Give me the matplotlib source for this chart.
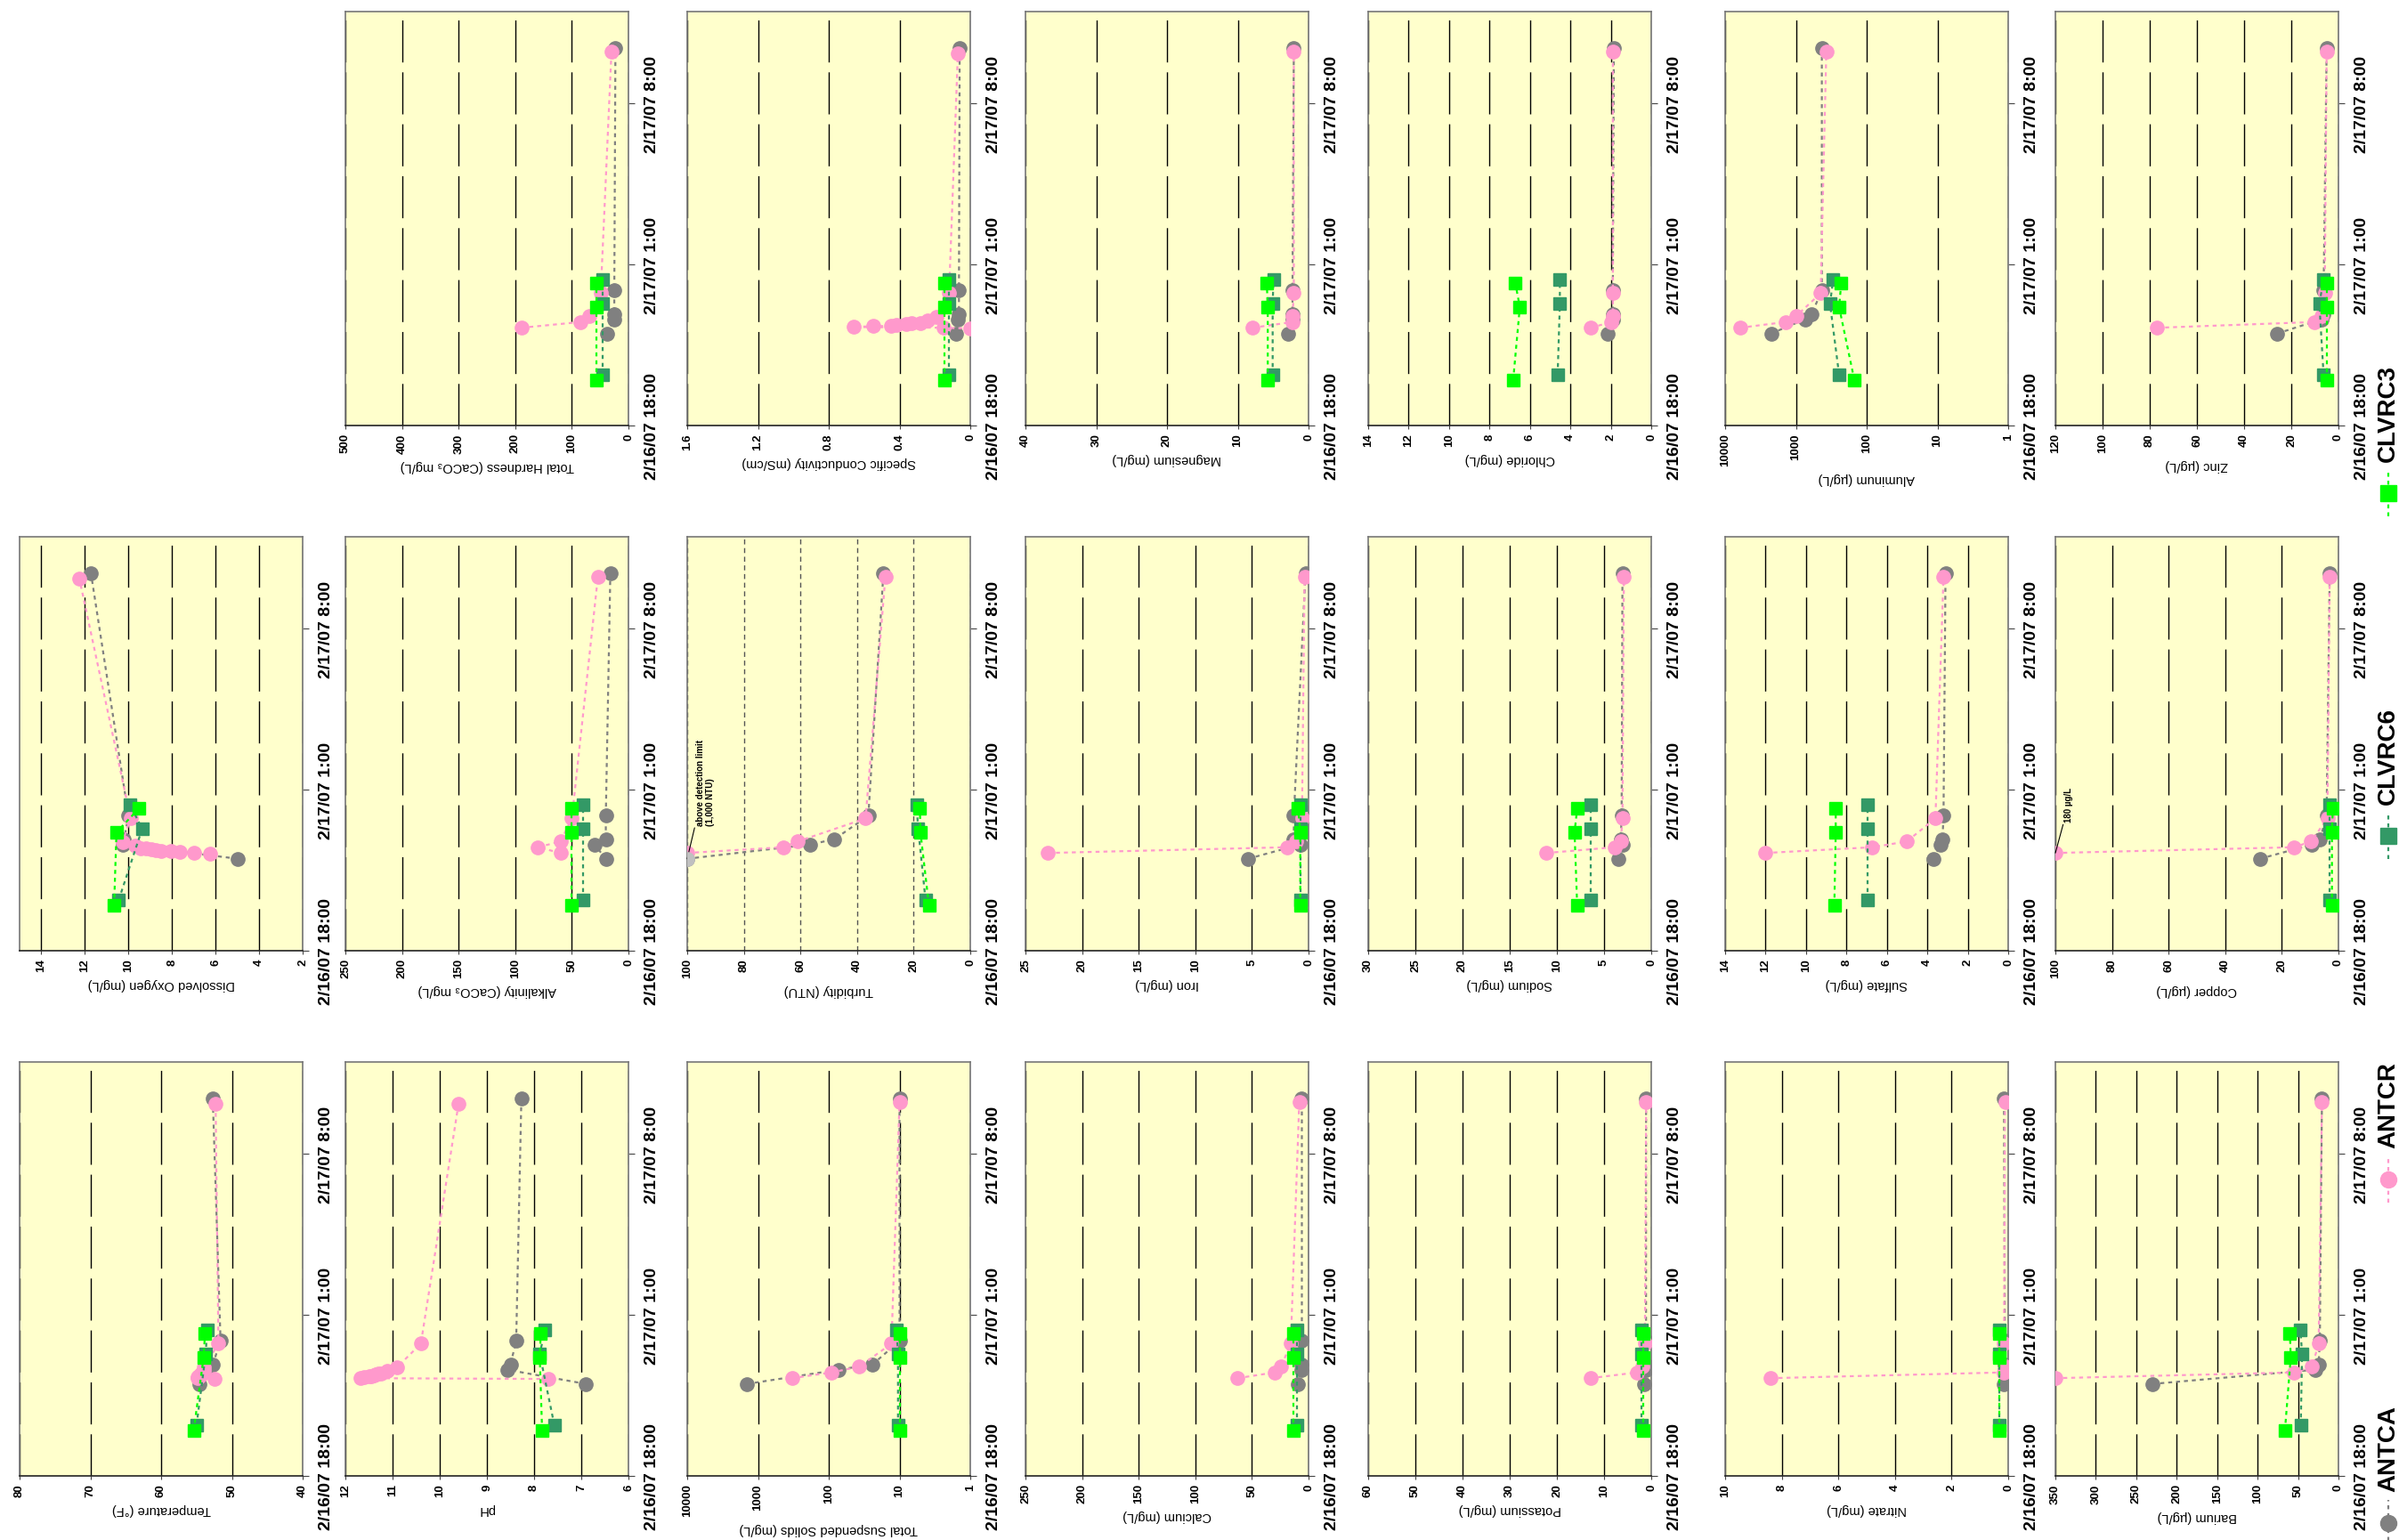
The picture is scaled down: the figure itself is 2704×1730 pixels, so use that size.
import numpy as np
import pandas as pd
import matplotlib
matplotlib.use("Agg")
import matplotlib.pyplot as plt
import matplotlib.dates as mdates
from matplotlib.lines import Line2D

plt.rcParams['font.family'] = ['Liberation Sans', 'DejaVu Sans']
plt.rcParams['font.weight'] = 'bold'

# sampling times for each site
t_antca = ['2007-02-16 22:00', '2007-02-16 22:37', '2007-02-16 22:51', '2007-02-16 23:52', '2007-02-17 10:24']
t_antcr = ['2007-02-16 22:15', '2007-02-16 22:30', '2007-02-16 22:45', '2007-02-16 23:45', '2007-02-17 10:15']
t_antcr_probe = ['2007-02-16 22:13', '2007-02-16 22:15', '2007-02-16 22:17', '2007-02-16 22:19',
                 '2007-02-16 22:20', '2007-02-16 22:22', '2007-02-16 22:24', '2007-02-16 22:26',
                 '2007-02-16 22:28', '2007-02-16 22:33', '2007-02-16 22:44', '2007-02-16 23:45',
                 '2007-02-17 10:12']
t_clvrc6 = ['2007-02-16 20:12', '2007-02-16 23:18', '2007-02-17 00:21']
t_clvrc3 = ['2007-02-16 19:58', '2007-02-16 23:09', '2007-02-17 00:11']

time_ticks = ['2007-02-16 18:00', '2007-02-17 01:00', '2007-02-17 08:00']
time_range = ['2007-02-16 18:00', '2007-02-17 12:00']

# field parameters (ANTCR values follow t_antcr_probe)
temperature = {'ANTCA': [54.6, 53.5, 52.7, 51.6, 52.7],
               'ANTCR': [52.5, 54.9, 54.8, 54.7, 54.6, 54.5, 54.4, 54.3, 54.2, 54.0, 53.9, 51.9, 52.3],
               'CLVRC6': [55.0, 53.7, 53.5], 'CLVRC3': [55.4, 54.0, 53.8]}
ph = {'ANTCA': [6.9, 8.57, 8.5, 8.38, 8.27],
      'ANTCR': [7.7, 11.68, 11.6, 11.5, 11.45, 11.4, 11.35, 11.3, 11.25, 11.12, 10.9, 10.4, 9.6],
      'CLVRC6': [7.57, 7.88, 7.77], 'CLVRC3': [7.83, 7.88, 7.86]}
dissolved_oxygen = {'ANTCA': [4.99, 10.27, 10.2, 10.0, 11.72],
                    'ANTCR': [6.26, 7.0, 7.66, 8.07, 8.5, 8.75, 8.96, 9.2, 9.43, 9.7, 10.27, 9.9, 12.26],
                    'CLVRC6': [10.45, 9.37, 9.93], 'CLVRC3': [10.66, 10.55, 9.52]}
conductivity = {'ANTCA': [0.08, 0.07, 0.064, 0.064, 0.06],
                'ANTCR': [0.0, 0.15, 0.66, 0.55, 0.45, 0.42, 0.36, 0.33, 0.28, 0.24, 0.19, 0.12, 0.07],
                'CLVRC6': [0.12, 0.12, 0.12], 'CLVRC3': [0.147, 0.147, 0.147]}

# lab parameters (ANTCR values follow t_antcr)
tss = {'ANTCA': [1427, 73.5, 24, 10, 10], 'ANTCR': [331, 91, 37, 13, 10],
       'CLVRC6': [10.5, 10.5, 11], 'CLVRC3': [10, 10, 10]}
calcium = {'ANTCA': [9.4, 5.9, 5.9, 5.9, 5.9], 'ANTCR': [62.7, 29.8, 24.3, 15.7, 8.2],
           'CLVRC6': [10.2, 10.2, 10.2], 'CLVRC3': [13, 13, 13]}
potassium = {'ANTCA': [1.5, 1.1, 1.1, 1.1, 1.1], 'ANTCR': [12.9, 3.0, 1.9, 1.35, 1.08],
             'CLVRC6': [2.0, 2.0, 2.0], 'CLVRC3': [1.75, 1.75, 1.75]}
nitrate = {'ANTCA': [0.15, 0.12, 0.12, 0.12, 0.15], 'ANTCR': [8.39, 0.16, 0.1, 0.15, 0.11],
           'CLVRC6': [0.3, 0.3, 0.3], 'CLVRC3': [0.33, 0.33, 0.33]}
barium = {'ANTCA': [230, 28.6, 24.5, 23, 20.4], 'ANTCR': [350, 54.8, 32.7, 24.5, 20.4],
          'CLVRC6': [46.6, 45, 47], 'CLVRC3': [66.2, 59, 60]}
alkalinity = {'ANTCA': [20, 30, 20, 20, 16], 'ANTCR': [60, 80, 60, 50, 27],
              'CLVRC6': [40, 40, 40], 'CLVRC3': [50, 50, 50]}
turbidity = {'ANTCA': [100, 56.5, 48, 36, 30.7], 'ANTCR': [100, 66, 61, 37, 30],
             'CLVRC6': [15.8, 18.4, 19], 'CLVRC3': [14.6, 17.6, 17.8]}
iron = {'ANTCA': [5.34, 0.73, 1.3, 1.3, 0.27], 'ANTCR': [23.0, 1.88, 1.1, 0.58, 0.35],
        'CLVRC6': [0.73, 0.73, 0.73], 'CLVRC3': [0.73, 0.73, 0.92]}
sodium = {'ANTCA': [3.46, 3.0, 3.23, 3.14, 3.05], 'ANTCR': [11.1, 3.83, 3.23, 3.05, 2.9],
          'CLVRC6': [6.46, 6.46, 6.46], 'CLVRC3': [7.85, 8.13, 7.85]}
sulfate = {'ANTCA': [3.7, 3.33, 3.25, 3.2, 3.1], 'ANTCR': [12.0, 6.72, 5.02, 3.6, 3.2],
           'CLVRC6': [6.94, 6.94, 6.94], 'CLVRC3': [8.6, 8.53, 8.53]}
copper = {'ANTCA': [27.7, 9.3, 6.5, 4.2, 3.1], 'ANTCR': [100, 15.6, 9.7, 3.9, 3.1],
          'CLVRC6': [3.1, 3.1, 3.1], 'CLVRC3': [2.3, 2.3, 2.0]}
hardness = {'ANTCA': [37, 25, 25, 25, 23], 'ANTCR': [189, 85, 69, 49, 30],
            'CLVRC6': [46, 46, 46], 'CLVRC3': [57, 57, 57]}
magnesium = {'ANTCA': [2.9, 2.27, 2.27, 2.27, 2.08], 'ANTCR': [7.9, 2.27, 2.27, 2.08, 2.08],
             'CLVRC6': [5.07, 5.07, 4.95], 'CLVRC3': [5.76, 5.76, 5.9]}
chloride = {'ANTCA': [2.14, 1.9, 1.9, 1.9, 1.85], 'ANTCR': [3.0, 1.96, 1.9, 1.9, 1.9],
            'CLVRC6': [4.63, 4.52, 4.52], 'CLVRC3': [6.83, 6.5, 6.72]}
aluminum = {'ANTCA': [2240, 745, 600, 430, 430], 'ANTCR': [6166, 1400, 1000, 447, 372],
            'CLVRC6': [245, 330, 297], 'CLVRC3': [149, 245, 229]}
zinc = {'ANTCA': [26, 7.2, 6.3, 6.3, 5.0], 'ANTCR': [76.8, 10.3, 7.2, 5.8, 5.0],
        'CLVRC6': [6.3, 8.1, 6.3], 'CLVRC3': [5.0, 5.0, 5.0]}

sites = ['ANTCA', 'ANTCR', 'CLVRC6', 'CLVRC3']
colors = {'ANTCA': '#808080', 'ANTCR': '#FF99CC', 'CLVRC6': '#339966', 'CLVRC3': '#00FF00'}
markers = {'ANTCA': 'o', 'ANTCR': 'o', 'CLVRC6': 's', 'CLVRC3': 's'}

# (row, col, label, data, min, max, step, log axis, probe data for ANTCR)
panels = [
    (2, 0, 'Temperature (°F)', temperature, 40, 80, 10, False, True),
    (2, 1, 'pH', ph, 6, 12, 1, False, True),
    (2, 2, 'Total Suspended Solids (mg/L)', tss, 1, 10000, None, True, False),
    (2, 3, 'Calcium (mg/L)', calcium, 0, 250, 50, False, False),
    (2, 4, 'Potassium (mg/L)', potassium, 0, 60, 10, False, False),
    (2, 5, 'Nitrate (mg/L)', nitrate, 0, 10, 2, False, False),
    (2, 6, 'Barium (µg/L)', barium, 0, 350, 50, False, False),
    (1, 0, 'Dissolved Oxygen (mg/L)', dissolved_oxygen, 2, 15, 2, False, True),
    (1, 1, 'Alkalinity (CaCO₃ mg/L)', alkalinity, 0, 250, 50, False, False),
    (1, 2, 'Turbidity (NTU)', turbidity, 0, 100, 20, False, False),
    (1, 3, 'Iron (mg/L)', iron, 0, 25, 5, False, False),
    (1, 4, 'Sodium (mg/L)', sodium, 0, 30, 5, False, False),
    (1, 5, 'Sulfate (mg/L)', sulfate, 0, 14, 2, False, False),
    (1, 6, 'Copper (µg/L)', copper, 0, 100, 20, False, False),
    (0, 1, 'Total Hardness (CaCO₃ mg/L)', hardness, 0, 500, 100, False, False),
    (0, 2, 'Specific Conductivity (mS/cm)', conductivity, 0, 1.6, 0.4, False, True),
    (0, 3, 'Magnesium (mg/L)', magnesium, 0, 40, 10, False, False),
    (0, 4, 'Chloride (mg/L)', chloride, 0, 14, 2, False, False),
    (0, 5, 'Aluminum (µg/L)', aluminum, 1, 10000, None, True, False),
    (0, 6, 'Zinc (µg/L)', zinc, 0, 120, 20, False, False),
]


def to_num(strings):
    return mdates.date2num(pd.to_datetime(strings).to_pydatetime())


times = {'ANTCA': to_num(t_antca), 'ANTCR': to_num(t_antcr),
         'CLVRC6': to_num(t_clvrc6), 'CLVRC3': to_num(t_clvrc3)}
probe_times = to_num(t_antcr_probe)
tick_pos = to_num(time_ticks)
tick_lbl = [f"{d.month}/{d.day}/{d:%y} {d.hour}:{d:%M}" for d in pd.to_datetime(time_ticks)]
t_lo, t_hi = to_num(time_range)

W, H = 2704, 1731
fig = plt.figure(figsize=(W / 100, H / 100), dpi=100)

col_left = [22, 388, 772, 1152, 1537, 1938, 2309]
row_top = [14, 604, 1194]
pw, ph_ = 318, 465

axes = {}
for row, col, label, data, lo, hi, step, logx, probe in panels:
    l, t = col_left[col], row_top[row]
    ax = fig.add_axes([l / W, 1 - (t + ph_) / H, pw / W, ph_ / H])
    ax.set_facecolor('#FFFFCC')
    for site in sites:
        ts = probe_times if (site == 'ANTCR' and probe) else times[site]
        ax.plot(data[site], ts, color=colors[site], ls=(0, (2, 2)), lw=1.6,
                marker=markers[site], ms=11 if markers[site] == 'o' else 10.5,
                mec=colors[site], mfc=colors[site], zorder=3)
    if logx:
        ax.set_xscale('log')
        ticks = [1, 10, 100, 1000, 10000]
    else:
        ticks = np.arange(lo, hi + 1e-9, step)
    ax.set_xlim(hi, lo)
    ax.minorticks_off()
    ax.set_xticks(ticks)
    ax.set_xticklabels([f'{v:g}' for v in ticks], rotation=90, fontsize=9.5)
    if label.startswith('Turbidity'):
        ax.grid(axis='x', color='#555555', lw=1, linestyle=(0, (4, 3)))
    else:
        ax.grid(axis='x', color='black', lw=1, linestyle=(0, (34, 8)))
    ax.set_ylim(t_lo, t_hi)
    ax.yaxis.tick_right()
    ax.set_yticks(tick_pos)
    ax.set_yticklabels(tick_lbl, rotation=90, va='center', ha='left', fontsize=14)
    ax.tick_params(axis='y', direction='out', length=5, pad=8, colors='#444444', labelcolor='black')
    ax.tick_params(axis='x', direction='out', length=3, pad=3, colors='#444444', labelcolor='black')
    for s in ax.spines.values():
        s.set_color('#777777')
        s.set_linewidth(1.2)
    ax.spines['bottom'].set_color('#222222')
    ax.set_xlabel(label, rotation=180, fontsize=10.5, labelpad=5)
    axes[label] = ax

# value above detection limit on turbidity
ax = axes['Turbidity (NTU)']
ax.plot([turbidity['ANTCA'][0]], [times['ANTCA'][0]], 'o', color='#C0C0C0', ms=11, zorder=4)
ax.annotate('above detection limit\n(1,000 NTU)', xy=(turbidity['ANTCA'][0], times['ANTCA'][0]),
            xytext=(7, 27), textcoords='offset points', rotation=90, fontsize=7,
            ha='left', va='bottom', multialignment='left',
            arrowprops=dict(arrowstyle='-', color='black', lw=0.8, shrinkA=0, shrinkB=0))

ax = axes['Copper (µg/L)']
ax.annotate('180 µg/L', xy=(copper['ANTCR'][0], times['ANTCR'][0]),
            xytext=(7, 25), textcoords='offset points', rotation=90, fontsize=7,
            ha='left', va='bottom',
            arrowprops=dict(arrowstyle='-', color='black', lw=0.8, shrinkA=0, shrinkB=0))

# legend, drawn vertically along the right edge
leg_y = [1712, 1326, 940, 555]
xf = 2683 / W
for site, yp in zip(sites, leg_y):
    yf = 1 - yp / H
    fig.add_artist(Line2D([xf, xf], [yf - 26 / H, yf + 26 / H], transform=fig.transFigure,
                          color=colors[site], ls=(0, (2, 2)), lw=1.6))
    fig.add_artist(Line2D([xf], [yf], transform=fig.transFigure, color=colors[site],
                          marker=markers[site], ms=13, ls='none'))
    fig.text(xf, yf + 36 / H, site, rotation=90, ha='center', va='bottom',
             fontsize=20, fontweight='bold')

fig.savefig('out.png', dpi=100)
